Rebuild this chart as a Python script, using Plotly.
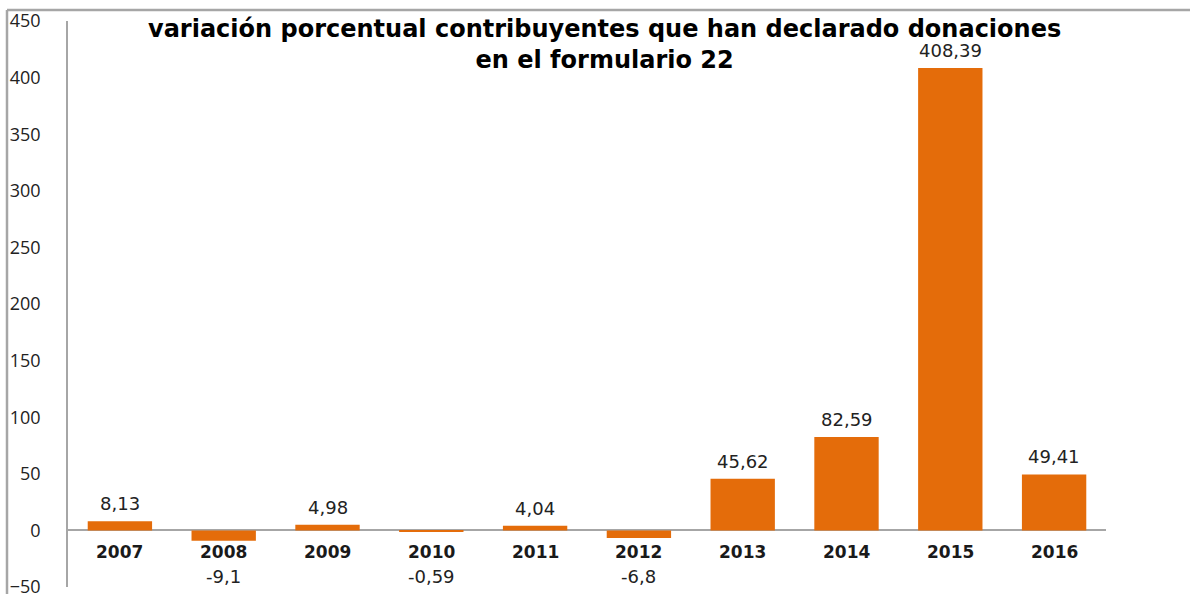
import plotly.graph_objects as go

years = ["2007", "2008", "2009", "2010", "2011", "2012", "2013", "2014", "2015", "2016"]
values = [8.13, -9.1, 4.98, -0.59, 4.04, -6.8, 45.62, 82.59, 408.39, 49.41]
labels = ["8,13", "-9,1", "4,98", "-0,59", "4,04", "-6,8", "45,62", "82,59", "408,39", "49,41"]
y_ticks = [-50, 0, 50, 100, 150, 200, 250, 300, 350, 400, 450]

W, H = 1190, 594
L, R, T, B = 68, 84, 21, 7

fig = go.Figure()
fig.add_trace(go.Bar(x=years, y=values, marker=dict(color="#E46C0A", line=dict(width=0)),
                     width=0.62, hoverinfo="skip"))

ann = []
for i, (yr, v, lab) in enumerate(zip(years, values, labels)):
    ann.append(dict(x=i, y=0, xref="x", yref="y", text="<b>" + yr + "</b>", showarrow=False,
                    yanchor="middle", yshift=-22,
                    font=dict(family="DejaVu Sans", size=17, color="#1a1a1a")))
    if v >= 0:
        ann.append(dict(x=i, y=v, xref="x", yref="y", text=lab, showarrow=False,
                        yanchor="bottom", yshift=5,
                        font=dict(family="DejaVu Sans", size=18, color="#222222")))
    else:
        ann.append(dict(x=i, y=0, xref="x", yref="y", text=lab, showarrow=False,
                        yanchor="middle", yshift=-46,
                        font=dict(family="DejaVu Sans", size=18, color="#222222")))

ph = H - T - B
pw = W - L - R

ann.append(dict(x=(604 - L) / pw, y=1 - (45 - T) / ph, xref="paper", yref="paper",
                text="<b>variación porcentual contribuyentes que han declarado donaciones<br>en el formulario 22</b>",
                showarrow=False, xanchor="center", yanchor="middle",
                font=dict(family="DejaVu Sans", size=24, color="#000000")))

shapes = [
    dict(type="line", xref="paper", yref="paper", x0=(7 - L) / pw, x1=(W - L) / pw,
         y0=1 + (T - 10) / ph, y1=1 + (T - 10) / ph, line=dict(color="#a6a6a6", width=2.5)),
    dict(type="line", xref="paper", yref="paper", x0=(7 - L) / pw, x1=(7 - L) / pw,
         y0=1 + (T - 10) / ph, y1=-(B + 5) / ph, line=dict(color="#a6a6a6", width=2.5)),
]

fig.update_layout(
    width=W, height=H,
    margin=dict(l=L, r=R, t=T, b=B, autoexpand=False),
    paper_bgcolor="white", plot_bgcolor="white",
    showlegend=False,
    annotations=ann,
    shapes=shapes,
    xaxis=dict(type="category", range=[-0.5, 9.5], showticklabels=False, showgrid=False,
               showline=False, zeroline=False, ticks="", automargin=False),
    yaxis=dict(range=[-50, 450], tickvals=y_ticks, showgrid=False, zeroline=True,
               zerolinecolor="#a6a6a6", zerolinewidth=1.5, showline=True, linecolor="#a6a6a6",
               linewidth=1.5, ticks="", ticklabelstandoff=22, ticklabeloverflow="allow",
               automargin=False,
               tickfont=dict(family="Open Sans", size=18, color="#222222")),
)

fig.write_html("out.html")
